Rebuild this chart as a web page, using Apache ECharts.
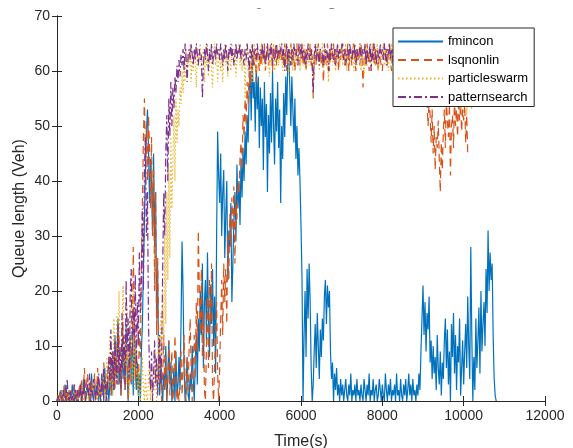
<!DOCTYPE html>
<html>
<head>
<meta charset="utf-8">
<script src="https://cdn.jsdelivr.net/npm/echarts@6/dist/echarts.min.js"></script>
<style>
  html, body { margin: 0; padding: 0; background: #fff; }
  #chart { width: 573px; height: 448px; }
</style>
</head>
<body>
<div id="chart"></div>
<script>
// sampling step of the time series (s)
const STEP = 25;

const seriesNames = ['fmincon', 'lsqnonlin', 'particleswarm', 'patternsearch'];
const xTicks = [0, 2000, 4000, 6000, 8000, 10000, 12000];
const yTicks = [0, 10, 20, 30, 40, 50, 60, 70];

// queue length (Veh), one value per STEP seconds, one row = 500 s
const fmincon = [
  0, 1, 0, 0, 2, 1, 0, 1, 3, 0,  1, 0, 2, 1, 0, 3, 1, 0, 2, 1,
  0, 2, 1, 3, 0, 1, 4, 2, 0, 1,  3, 1, 0, 2, 5, 1, 0, 3, 1, 2,
  4, 0, 2, 1, 5, 3, 0, 6, 2, 1,  4, 0, 3, 7, 1, 9, 2, 12, 4, 8,
  15, 3, 6, 1, 11, 4, 9, 2, 14, 5,  0, 8, 12, 3, 10, 1, 13, 6, 2, 7,
  1, 5, 0, 9, 14, 24, 33, 42, 49, 53,  46, 36, 44, 40, 30, 45, 28, 38, 15, 24,
  6, 1, 8, 3, 0, 5, 2, 10, 0, 4,  11, 3, 7, 0, 2, 6, 0, 9, 1, 3,
  8, 2, 14, 29, 20, 6, 0, 3, 8, 1,  0, 5, 2, 10, 4, 0, 7, 12, 3, 15,
  9, 20, 12, 25, 6, 18, 22, 11, 27, 15,  8, 21, 14, 24, 10, 19, 5, 30, 49, 41,
  36, 45, 30, 38, 42, 26, 34, 40, 22, 31,  28, 36, 18, 25, 33, 38, 29, 43, 35, 40,
  32, 44, 37, 46, 40, 49, 43, 52, 47, 56,  60, 51, 63, 55, 58, 49, 61, 53, 59, 46,
  57, 50, 55, 42, 58, 48, 54, 38, 52, 45,  56, 47, 60, 50, 43, 55, 49, 58, 46, 53,
  36, 50, 44, 56, 48, 59, 52, 62, 64, 57,  50, 59, 53, 47, 55, 44, 50, 41, 46, 40,
  32, 22, 0, 12, 20, 8, 24, 15, 25, 18,  6, 0, 3, 9, 14, 6, 16, 10, 4, 13,
  8, 15, 11, 19, 22, 14, 21, 17, 20, 9,  4, 7, 0, 5, 2, 6, 1, 3, 0, 4,
  1, 3, 0, 2, 4, 1, 0, 3, 1, 5,  0, 2, 1, 3, 0, 4, 1, 2, 0, 3,
  1, 0, 4, 2, 0, 3, 1, 5, 0, 2,  1, 4, 0, 2, 3, 0, 1, 4, 2, 0,
  3, 1, 0, 5, 2, 0, 3, 1, 4, 0,  2, 1, 3, 0, 5, 1, 2, 0, 4, 1,
  0, 3, 1, 4, 0, 2, 5, 1, 3, 0,  4, 1, 2, 0, 3, 1, 5, 2, 9, 15,
  21, 12, 18, 9, 16, 13, 19, 7, 11, 4,  10, 5, 8, 2, 12, 6, 3, 9, 1, 7,
  4, 11, 15, 6, 13, 3, 9, 0, 14, 8,  16, 5, 12, 2, 10, 7, 15, 1, 6, 11,
  3, 9, 14, 6, 19, 10, 4, 28, 12, 0,  8, 2, 15, 6, 11, 17, 5, 20, 9, 14,
  18, 10, 24, 16, 31, 20, 27, 22, 25, 12,  4, 1, 0
];

const lsqnonlin = [
  0, 1, 0, 2, 0, 1, 0, 3, 1, 0,  2, 0, 1, 0, 2, 1, 0, 3, 0, 1,
  2, 0, 3, 1, 4, 0, 2, 6, 1, 3,  5, 2, 0, 4, 1, 3, 2, 5, 0, 2,
  6, 1, 3, 0, 4, 2, 7, 3, 0, 5,  2, 8, 4, 1, 6, 3, 9, 2, 11, 5,
  3, 12, 6, 1, 9, 14, 4, 2, 10, 7,  0, 5, 11, 3, 8, 28, 15, 4, 9, 6,
  2, 13, 8, 24, 36, 48, 55, 44, 50, 40,  52, 46, 35, 48, 30, 42, 20, 38, 12, 26,
  10, 3, 7, 0, 5, 12, 2, 8, 0, 4,  11, 1, 6, 9, 0, 3, 12, 5, 0, 2,
  0, 4, 9, 1, 6, 12, 3, 0, 8, 2,  10, 15, 5, 0, 7, 12, 4, 18, 9, 31,
  20, 12, 24, 8, 16, 2, 0, 10, 19, 6,  22, 14, 25, 3, 0, 0, 12, 18, 5, 0,
  6, 15, 22, 12, 25, 18, 24, 14, 30, 22,  34, 28, 37, 31, 39, 25, 36, 33, 40, 38,
  44, 47, 42, 52, 48, 55, 50, 58, 54, 60,  56, 62, 59, 64, 61, 63, 58, 64, 62, 60,
  63, 61, 64, 62, 65, 60, 63, 64, 61, 62,  65, 63, 60, 64, 62, 65, 61, 63, 64, 62,
  64, 62, 63, 61, 65, 63, 60, 64, 62, 63,  65, 61, 64, 62, 60, 63, 65, 62, 64, 61,
  63, 65, 61, 64, 62, 60, 63, 64, 62, 65,  61, 63, 55, 62, 64, 61, 63, 65, 62, 64,
  61, 63, 58, 62, 64, 61, 65, 63, 60, 64,  62, 63, 65, 61, 64, 62, 63, 60, 64, 62,
  65, 62, 63, 61, 64, 62, 65, 60, 63, 64,  61, 63, 65, 62, 60, 64, 62, 63, 61, 65,
  63, 57, 62, 64, 61, 65, 63, 60, 64, 62,  63, 65, 61, 64, 62, 63, 60, 64, 62, 61,
  60, 63, 65, 62, 64, 61, 63, 65, 62, 60,  64, 63, 61, 65, 59, 63, 64, 62, 65, 61,
  63, 62, 64, 61, 65, 62, 63, 60, 64, 62,  61, 63, 65, 62, 64, 60, 63, 62, 64, 61,
  63, 60, 62, 56, 54, 50, 55, 52, 47, 53,  45, 50, 42, 48, 46, 51, 44, 38, 47, 42,
  49, 53, 46, 55, 51, 48, 54, 41, 50, 52,  46, 55, 50, 53, 48, 55, 51, 54, 49, 53,
  51, 54, 47, 52, 45
];

const particleswarm = [
  0, 0, 1, 0, 0, 2, 0, 1, 0, 0,  1, 0, 2, 0, 1, 0, 0, 2, 1, 0,
  1, 0, 2, 0, 1, 3, 0, 1, 0, 2,  1, 0, 3, 1, 0, 2, 4, 1, 0, 2,
  0, 3, 1, 0, 4, 2, 5, 1, 3, 8,  2, 6, 12, 3, 9, 1, 15, 4, 10, 16,
  5, 20, 9, 2, 14, 21, 6, 11, 3, 17,  8, 1, 13, 19, 4, 20, 2, 12, 7, 3,
  1, 6, 0, 3, 8, 2, 0, 5, 1, 0,  4, 7, 0, 3, 1, 6, 2, 9, 0, 5,
  12, 4, 16, 8, 20, 10, 30, 14, 38, 22,  42, 26, 48, 35, 44, 52, 40, 55, 47, 53,
  50, 57, 54, 60, 56, 62, 58, 64, 59, 63,  61, 65, 58, 63, 60, 64, 62, 57, 64, 61,
  63, 65, 60, 62, 64, 58, 63, 61, 65, 59,  62, 64, 60, 57, 63, 65, 61, 64, 58, 62,
  64, 60, 63, 58, 62, 65, 61, 63, 59, 64,  62, 60, 65, 63, 61, 64, 59, 62, 63, 65,
  61, 63, 60, 64, 62, 55, 63, 65, 60, 62,  64, 61, 58, 63, 65, 62, 60, 64, 63, 61,
  63, 65, 61, 62, 64, 60, 63, 65, 62, 59,  64, 61, 63, 65, 60, 62, 64, 63, 61, 65,
  62, 64, 60, 63, 65, 61, 62, 64, 59, 63,  65, 62, 60, 64, 63, 61, 65, 62, 64, 60,
  64, 61, 63, 65, 62, 60, 64, 63, 61, 65,  62, 64, 59, 63, 61, 65, 62, 64, 60, 63,
  62, 65, 60, 63, 64, 61, 63, 58, 64, 62,  65, 61, 63, 64, 60, 62, 65, 63, 61, 64,
  63, 61, 64, 62, 65, 60, 63, 64, 61, 63,  62, 65, 60, 64, 63, 61, 64, 62, 65, 60,
  64, 62, 59, 63, 65, 61, 64, 62, 63, 60,  65, 62, 64, 61, 63, 65, 60, 63, 64, 62,
  63, 65, 61, 64, 62, 63, 60, 64, 62, 65,  61, 63, 64, 60, 62, 65, 63, 61, 64, 62,
  61, 63, 64, 59, 62, 64, 61, 63, 65, 62,  60, 64, 62, 63, 58, 62, 64, 61, 63, 65,
  63, 60, 64, 62, 61, 63, 58, 62, 60, 63,  64, 61, 62, 59, 63, 60, 62, 64, 61, 63,
  61, 57, 62, 60, 55, 61, 59, 62, 58, 60,  63, 56, 61, 59, 62, 57, 60, 53, 58, 61,
  60, 56, 58, 52, 57, 54, 59, 55, 53
];

const patternsearch = [
  0, 1, 0, 0, 1, 0, 2, 0, 1, 0,  4, 1, 0, 2, 0, 1, 0, 3, 1, 0,
  2, 0, 1, 3, 0, 2, 1, 4, 0, 2,  3, 1, 5, 0, 2, 1, 4, 2, 0, 3,
  1, 5, 2, 0, 4, 1, 6, 2, 3, 0,  5, 8, 3, 13, 4, 9, 2, 11, 6, 3,
  14, 5, 10, 2, 16, 7, 12, 3, 22, 9,  15, 4, 19, 24, 8, 17, 11, 23, 6, 18,
  10, 27, 16, 22, 35, 20, 42, 48, 30, 38,  14, 6, 2, 9, 0, 5, 11, 3, 8, 1,
  6, 12, 3, 9, 25, 38, 30, 45, 52, 40,  55, 48, 58, 50, 57, 53, 59, 56, 61, 58,
  62, 59, 63, 61, 64, 60, 65, 62, 58, 63,  64, 62, 65, 63, 61, 64, 62, 65, 63, 61,
  64, 62, 63, 55, 61, 64, 62, 65, 63, 60,  64, 62, 65, 61, 63, 64, 62, 65, 63, 64,
  62, 65, 63, 61, 64, 62, 65, 63, 60, 64,  63, 65, 62, 64, 61, 63, 65, 62, 64, 63,
  65, 62, 64, 63, 61, 64, 62, 65, 63, 60,  64, 62, 65, 61, 63, 64, 62, 65, 63, 62,
  64, 63, 65, 62, 64, 61, 63, 65, 62, 64,  63, 65, 61, 64, 62, 63, 65, 62, 64, 63,
  63, 65, 62, 64, 60, 63, 65, 62, 64, 63,  61, 64, 62, 65, 63, 64, 62, 61, 65, 63,
  65, 62, 64, 63, 61, 64, 62, 65, 63, 62,  64, 61, 56, 63, 65, 62, 64, 63, 61, 64,
  64, 63, 61, 65, 62, 64, 63, 60, 64, 62,  65, 63, 62, 64, 61, 63, 65, 62, 64, 63,
  63, 65, 62, 64, 61, 63, 64, 62, 65, 63,  62, 64, 63, 65, 61, 64, 62, 63, 65, 62,
  62, 64, 63, 65, 61, 64, 62, 63, 65, 60,  64, 62, 65, 63, 61, 64, 63, 62, 65, 63,
  64, 62, 65, 63, 61, 64, 63, 65, 62, 64,  63, 61, 64, 62, 65, 63, 62, 64, 61, 63,
  63, 61, 64, 62, 65, 63, 60, 64, 62, 63,  65, 62, 64, 61, 63, 65, 62, 63, 64, 62,
  64, 62, 63, 65, 61, 64, 62, 63, 60, 64,  62, 65, 63, 61, 64, 62, 63, 65, 62, 64,
  62, 63, 61, 64, 62, 60, 63, 62, 64, 61,  63, 65, 62, 64, 61, 63, 62, 60, 64, 62,
  63, 61, 64, 62, 60, 63, 62
];

const colors = ['#0072BD', '#D95319', '#EDB120', '#7E2F8E'];
const dashes = ['solid', [8, 5], [1.5, 2.5], [8, 3, 2, 3]];

function toPairs(vals) {
  return vals.map((v, i) => [i * STEP, v]);
}

const FONT = 'Liberation Sans, Arial, sans-serif';
const AX = '#262626';

const chart = echarts.init(document.getElementById('chart'));

const allData = [fmincon, lsqnonlin, particleswarm, patternsearch];

const option = {
  animation: false,
  backgroundColor: '#fff',
  // the title is cut off at the top of the figure, only the tail of the "g" shows
  title: {
    text: 'Queue length',
    left: 250,
    top: -6.2,
    padding: 0,
    textStyle: { fontFamily: FONT, fontSize: 16, fontWeight: 'bold', color: '#000' }
  },
  graphic: [{
    type: 'rect', left: 0, top: 0, z: 100,
    shape: { width: 573, height: 8.5 },
    style: { fill: '#fff' }
  }],
  grid: { left: 57, right: 28, top: 16, bottom: 47, outerBoundsMode: 'none', containLabel: false },
  legend: {
    orient: 'vertical',
    left: 393,
    top: 28,
    padding: [7, 6, 3, 4],
    itemGap: 5.5,
    itemWidth: 45,
    itemHeight: 14,
    backgroundColor: '#fff',
    borderColor: AX,
    borderWidth: 1,
    borderRadius: 0,
    itemStyle: { opacity: 0 },
    textStyle: { fontFamily: FONT, fontSize: 13, color: '#000' },
    data: seriesNames
  },
  xAxis: [
    {
      type: 'value', min: 0, max: 12000, interval: 2000,
      name: 'Time(s)', nameLocation: 'middle', nameGap: 33,
      nameTextStyle: { fontFamily: FONT, fontSize: 16, color: AX },
      axisLine: { lineStyle: { color: AX, width: 1 } },
      axisTick: { inside: true, length: 5, lineStyle: { color: AX } },
      axisLabel: { fontFamily: FONT, fontSize: 14, color: AX, margin: 8,
        formatter: v => xTicks.indexOf(v) >= 0 ? String(v) : '' },
      splitLine: { show: false }
    },
    {
      type: 'value', position: 'top', min: 0, max: 12000, interval: 2000,
      axisLine: { show: true, lineStyle: { color: AX, width: 1 } },
      axisTick: { inside: true, length: 5, lineStyle: { color: AX } },
      axisLabel: { show: false },
      splitLine: { show: false }
    }
  ],
  yAxis: [
    {
      type: 'value', min: 0, max: 70, interval: 10,
      name: 'Queue length (Veh)', nameLocation: 'middle', nameGap: 29,
      nameMoveOverlap: false,
      nameTextStyle: { fontFamily: FONT, fontSize: 16, color: AX },
      axisLine: { show: true, lineStyle: { color: AX, width: 1 } },
      axisTick: { show: true, inside: true, length: 5, lineStyle: { color: AX } },
      axisLabel: { fontFamily: FONT, fontSize: 14, color: AX, margin: 7,
        formatter: v => yTicks.indexOf(v) >= 0 ? String(v) : '' },
      splitLine: { show: false }
    },
    {
      type: 'value', position: 'right', min: 0, max: 70, interval: 10,
      axisLine: { show: true, lineStyle: { color: AX, width: 1 } },
      axisTick: { show: true, inside: true, length: 5, lineStyle: { color: AX } },
      axisLabel: { show: false },
      splitLine: { show: false }
    }
  ],
  series: seriesNames.map((name, k) => ({
    name: name,
    type: 'line',
    xAxisIndex: 0,
    yAxisIndex: 0,
    data: toPairs(allData[k]),
    showSymbol: false,
    symbol: 'none',
    color: colors[k],
    lineStyle: { color: colors[k], width: 1.2, type: dashes[k] },
    emphasis: { disabled: true }
  }))
};

chart.setOption(option);
</script>
</body>
</html>
